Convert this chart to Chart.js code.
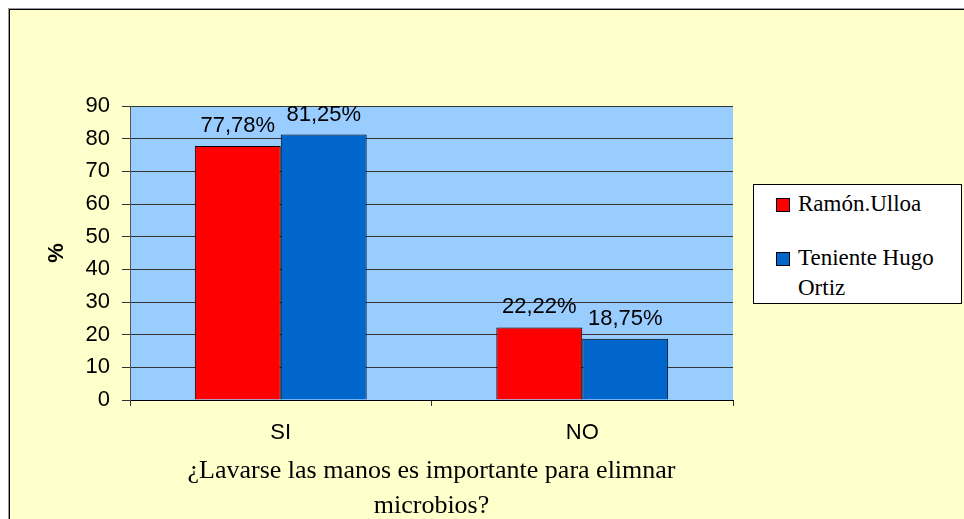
<!DOCTYPE html>
<html>
<head>
<meta charset="utf-8">
<script src="https://cdn.jsdelivr.net/npm/chart.js@4"></script>
<style>
  html, body { margin: 0; padding: 0; background: #fff; overflow: hidden; }
  #wrap { position: relative; width: 964px; height: 540px; }
  #legend {
    position: absolute; left: 753px; top: 184px; width: 207px; height: 118px;
    border: 1px solid #000; background: #fff;
    font-family: "Liberation Serif", serif; font-size: 23px; color: #000;
  }
  .item { position: absolute; left: 22px; width: 180px; line-height: 30px; }
  .sw { position: absolute; left: 0; top: 9px; width: 12px; height: 12px; border: 1px solid #000; }
  .txt { margin-left: 22px; }
</style>
</head>
<body>
<div id="wrap">
  <canvas id="chart" width="964" height="540"></canvas>
  <div id="legend"></div>
</div>
<script>
// data
const categories = ['SI', 'NO']
const ramonUlloa = [77.78, 22.22]
const tenienteHugo = [81.25, 18.75]
const seriesNames = ['Ramón.Ulloa', 'Teniente Hugo Ortiz']
const seriesColors = ['#FF0000', '#0066CC']
const yTicks = [0, 10, 20, 30, 40, 50, 60, 70, 80, 90]
const xTitle = ['¿Lavarse las manos es importante para elimnar', 'microbios?']

const sans = 'Liberation Sans'
const serif = 'Liberation Serif'

// backgrounds: outer yellow box + blue plot area
const bgPlugin = {
  id: 'bg',
  beforeDraw(chart) {
    const c = chart.ctx
    const a = chart.chartArea
    c.save()
    c.fillStyle = '#fff'
    c.fillRect(0, 0, chart.width, chart.height)
    c.fillStyle = '#FFFFCC'
    c.fillRect(9.5, 9.5, chart.width, chart.height)
    c.strokeStyle = '#999'
    c.lineWidth = 1
    c.strokeRect(8.5, 8.5, chart.width + 10, chart.height + 10)
    c.strokeStyle = '#000'
    c.strokeRect(9.5, 9.5, chart.width + 10, chart.height + 10)
    c.fillStyle = '#99CCFF'
    c.fillRect(a.left, a.top, a.right - a.left, a.bottom - a.top)
    c.restore()
  }
}

// value labels above bars
const labelPlugin = {
  id: 'vals',
  afterDatasetsDraw(chart) {
    const c = chart.ctx
    c.save()
    c.font = '22px "' + sans + '"'
    c.fillStyle = '#000'
    c.textAlign = 'center'
    c.textBaseline = 'middle'
    chart.data.datasets.forEach((ds, i) => {
      chart.getDatasetMeta(i).data.forEach((bar, j) => {
        const txt = ds.data[j].toFixed(2).replace('.', ',') + '%'
        c.fillText(txt, bar.x, bar.y - 20)
      })
    })
    c.restore()
  }
}

const ctx = document.getElementById('chart')

const myChart = new Chart(ctx, {
  type: 'bar',
  data: {
    labels: categories,
    datasets: [
      { label: seriesNames[0], data: ramonUlloa, backgroundColor: seriesColors[0], borderColor: '#000', borderWidth: 1 },
      { label: seriesNames[1], data: tenienteHugo, backgroundColor: seriesColors[1], borderColor: '#000', borderWidth: 1 }
    ]
  },
  options: {
    responsive: false,
    animation: false,
    layout: { padding: { left: 0, top: 106, right: 231, bottom: 0 } },
    plugins: { legend: { display: false }, tooltip: { enabled: false } },
    datasets: { bar: { categoryPercentage: 0.57, barPercentage: 1 } },
    scales: {
      x: {
        afterFit(scale) { scale.height = 140 },
        grid: { offset: true, drawOnChartArea: false, tickLength: 6, color: '#333' },
        border: { color: '#000' },
        ticks: { color: '#000', padding: 14, font: { family: sans, size: 22 } },
        title: {
          display: true, text: xTitle, color: '#000',
          font: { family: serif, size: 26, lineHeight: '35px' },
          padding: { top: 0, bottom: 16 }
        }
      },
      y: {
        min: 0, max: 90,
        afterFit(scale) { scale.width = 130 },
        afterBuildTicks(scale) { scale.ticks = yTicks.map(v => ({ value: v })) },
        grid: { color: '#333', tickLength: 8 },
        border: { color: '#555' },
        ticks: { color: '#000', padding: 12, font: { family: sans, size: 22 } },
        title: {
          display: true, text: '%', color: '#000',
          font: { family: sans, size: 22, weight: 'bold' },
          padding: { top: 44, bottom: 0 }
        }
      }
    }
  },
  plugins: [bgPlugin, labelPlugin]
})

// legend
const legend = document.getElementById('legend')
const tops = [4, 58]
seriesNames.forEach((name, i) => {
  const it = document.createElement('div')
  it.className = 'item'
  it.style.top = tops[i] + 'px'
  it.innerHTML = '<span class="sw" style="background:' + seriesColors[i] + '"></span><div class="txt">' + name + '</div>'
  legend.appendChild(it)
})
</script>
</body>
</html>
